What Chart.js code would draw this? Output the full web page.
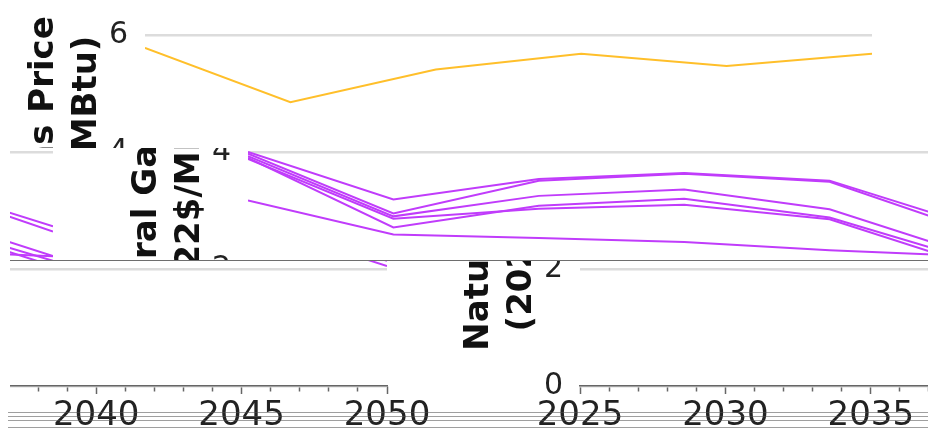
<!DOCTYPE html>
<html>
<head>
<meta charset="utf-8">
<script src="https://cdn.jsdelivr.net/npm/chart.js@4.4.1/dist/chart.umd.min.js"></script>
<style>
  html, body { margin: 0; padding: 0; background: #fff; }
  #stage { position: relative; width: 928px; height: 431px; overflow: hidden; background: #fff; }
  .tile { position: absolute; overflow: hidden; }
  .tile canvas { position: absolute; }
  .seam { position: absolute; left: 10px; width: 918px; height: 1px; background: #6e6e6e; }
  .streak { position: absolute; left: 8px; width: 920px; height: 1px; background: rgba(80, 80, 80, 0.55); }
</style>
</head>
<body>
<div id="stage"></div>
<script>
// --- データ ---
const years      = [2025, 2030, 2035, 2040, 2045, 2050];
const refPrice   = [5.78, 4.85, 5.41, 5.68, 5.47, 5.68];
const caseA      = [4.00, 3.19, 3.54, 3.64, 3.51, 2.73];
const caseB      = [3.97, 2.95, 3.51, 3.63, 3.49, 2.64];
const caseC      = [3.93, 2.90, 3.25, 3.36, 3.02, 2.22];
const caseD      = [3.90, 2.71, 3.08, 3.20, 2.88, 2.14];
const caseE      = [3.88, 2.86, 3.03, 3.10, 2.85, 2.05];
const caseF      = [3.17, 2.59, 2.53, 2.46, 2.32, 2.22];
const yTicks     = [0, 2, 4, 6];
const titleLines = ['Natural Gas Price', '(2022$/MMBtu)'];

const ORANGE = '#ffbf2a';
const PURPLE = '#c03cfb';

// 画像は同じグラフをずらして貼り合わせたタイル状 [left, top, width, height, shiftX]
const tiles = [
    [0,   0,   928, 148, 0],
    [10,  148, 93,  113, -819],
    [103, 148, 825, 113, 103],
    [10,  261, 433, 170, -485],
    [443, 261, 485, 170, 435]
];

const toPoints = arr => arr.map((v, i) => ({ x: years[i], y: v }));

const lineSet = (data, color) => ({
    data: toPoints(data),
    borderColor: color,
    backgroundColor: color,
    borderWidth: 2,
    pointRadius: 0,
    tension: 0,
    fill: false
});

// y軸タイトル（2行・太字）
const yTitlePlugin = {
    id: 'yTitle',
    afterDraw(chart) {
        const { ctx, chartArea } = chart;
        const cy = (chartArea.top + chartArea.bottom) / 2 - 27;
        ctx.save();
        ctx.font = 'bold 34px "DejaVu Sans"';
        ctx.fillStyle = '#111';
        ctx.textAlign = 'center';
        ctx.textBaseline = 'alphabetic';
        titleLines.forEach((line, i) => {
            ctx.save();
            ctx.translate(53 + i * 43, cy);
            ctx.rotate(-Math.PI / 2);
            ctx.fillText(line, 0, 0);
            ctx.restore();
        });
        ctx.restore();
    }
};

function buildChart(canvas) {
    return new Chart(canvas, {
        type: 'line',
        data: {
            datasets: [
                lineSet(refPrice, ORANGE),
                lineSet(caseA, PURPLE),
                lineSet(caseB, PURPLE),
                lineSet(caseC, PURPLE),
                lineSet(caseD, PURPLE),
                lineSet(caseE, PURPLE),
                lineSet(caseF, PURPLE)
            ]
        },
        options: {
            responsive: false,
            animation: false,
            devicePixelRatio: 1,
            layout: { padding: { top: 32, right: 56, left: 0, bottom: 0 } },
            plugins: { legend: { display: false }, tooltip: { enabled: false } },
            scales: {
                x: {
                    type: 'linear', min: years[0], max: years[years.length - 1],
                    ticks: {
                        stepSize: 1, autoSkip: false, maxRotation: 0, minRotation: 0,
                        padding: 2, color: '#222',
                        font: { family: 'DejaVu Sans', size: 34 },
                        callback: v => (v % 5 === 0 ? String(v) : '')
                    },
                    grid: {
                        drawOnChartArea: false, drawTicks: true,
                        tickLength: 8, tickColor: '#666', tickWidth: 1.5,
                        tickBorderDash: c => (c.tick && c.tick.value % 5 === 0 ? [] : [5, 20])
                    },
                    border: { display: true, color: '#666', width: 1.5 },
                    afterFit: s => { s.height = 45; }
                },
                y: {
                    min: yTicks[0], max: yTicks[yTicks.length - 1],
                    afterBuildTicks: s => { s.ticks = yTicks.map(v => ({ value: v })); },
                    ticks: { padding: 17, color: '#222', font: { family: 'DejaVu Sans', size: 30 } },
                    grid: { color: '#dcdcdc', lineWidth: 2.5, drawTicks: false },
                    border: { display: false },
                    afterFit: s => { s.width = 145; }
                }
            }
        },
        plugins: [yTitlePlugin]
    });
}

const stage = document.getElementById('stage');
tiles.forEach(([left, top, w, h, shiftX]) => {
    const tile = document.createElement('div');
    tile.className = 'tile';
    Object.assign(tile.style, { left: left + 'px', top: top + 'px', width: w + 'px', height: h + 'px' });
    const cv = document.createElement('canvas');
    cv.width = 928; cv.height = 431;
    Object.assign(cv.style, { left: (shiftX - left) + 'px', top: (-top) + 'px', width: '928px', height: '431px' });
    tile.appendChild(cv);
    stage.appendChild(tile);
    buildChart(cv);
});

// 継ぎ目と下部のすじ
const seam = document.createElement('div');
seam.className = 'seam';
seam.style.top = '260px';
stage.appendChild(seam);
[412, 416, 420, 427].forEach(y => {
    const s = document.createElement('div');
    s.className = 'streak';
    s.style.top = y + 'px';
    stage.appendChild(s);
});
</script>
</body>
</html>
